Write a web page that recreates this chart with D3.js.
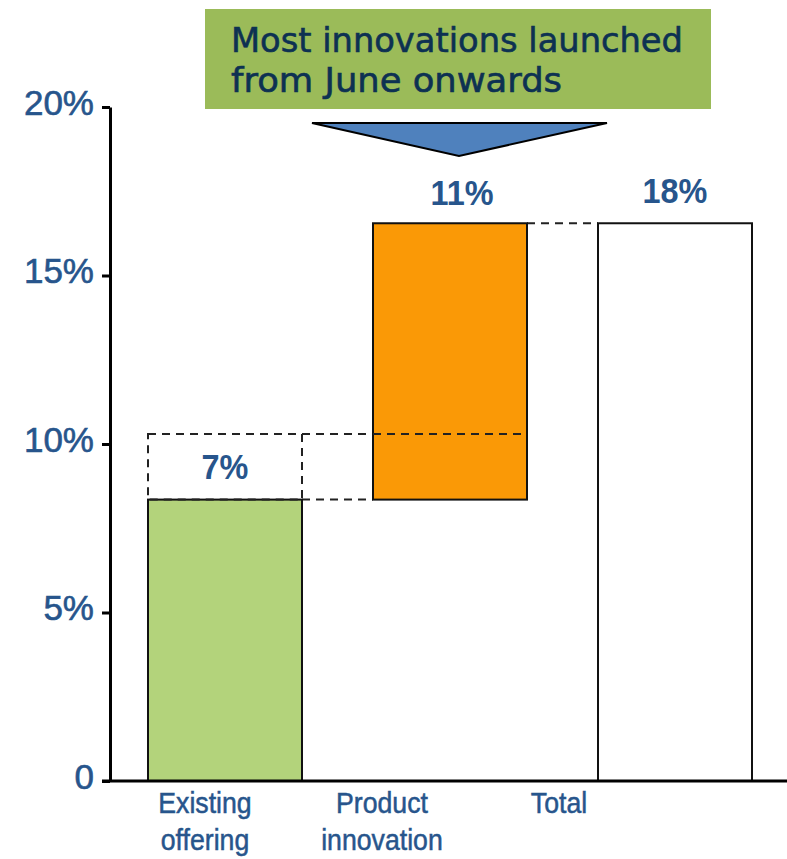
<!DOCTYPE html>
<html>
<head>
<meta charset="utf-8">
<script src="https://cdn.jsdelivr.net/npm/d3@7/dist/d3.min.js"></script>
<style>
  html, body { margin: 0; padding: 0; background: #ffffff; }
  svg { display: block; }
</style>
</head>
<body>
<svg id="chart" width="787" height="859"></svg>
<script>
// ---- Data -------------------------------------------------------------
const categories = ["Existing offering", "Product innovation", "Total"];
const categoryLines = [["Existing", "offering"], ["Product", "innovation"], ["Total"]];
const barBase = [0, 8.35, 0];          // where each waterfall bar starts (%)
const barTop = [8.35, 16.55, 16.55];   // where each waterfall bar ends (%)
const valueLabels = ["7%", "11%", "18%"];
const pendingRange = [8.35, 10.3];     // dashed outline above "Existing offering"
const yTicks = [0, 5, 10, 15, 20];
const yTickLabels = ["0", "5%", "10%", "15%", "20%"];
const headline = ["Most innovations launched", "from June onwards"];

// ---- Styles -----------------------------------------------------------
const blue = "#27558c";
const barFill = { "Existing offering": "#b3d37b", "Product innovation": "#fa9906", "Total": "#ffffff" };
const sans = "'Liberation Sans', Arial, sans-serif";

const svg = d3.select("#chart");

// squeeze a text element horizontally around its anchor point
function narrow(sel, k) {
  sel.each(function () {
    const t = d3.select(this);
    const cx = +t.attr("x") || 0;
    t.attr("transform", `translate(${cx},0) scale(${k},1) translate(${-cx},0)`);
  });
}

// ---- Scales -----------------------------------------------------------
const y = d3.scaleLinear().domain([0, 20]).range([781, 107]);
const x = d3.scaleBand().domain(categories).range([148, 752]).paddingInner(0.3156).paddingOuter(0);
const xLabel = d3.scalePoint().domain(categories).range([205, 559]);

// ---- Dashed helpers (drawn beneath the bars) ---------------------------
const dash = "8,6";
const conn = svg.append("g").attr("fill", "none").attr("stroke", "#222").attr("stroke-width", 2).attr("stroke-dasharray", dash);
const c0 = categories[0], c1 = categories[1], c2 = categories[2];

// top of pending range carried across to the innovation bar
conn.append("line")
  .attr("x1", x(c0) + x.bandwidth()).attr("x2", x(c1))
  .attr("y1", y(pendingRange[1])).attr("y2", y(pendingRange[1]));
// base of the innovation bar
conn.append("line")
  .attr("x1", x(c0) + x.bandwidth()).attr("x2", x(c1))
  .attr("y1", y(barTop[0])).attr("y2", y(barTop[0]));
// innovation top to total
conn.append("line")
  .attr("x1", x(c1) + x.bandwidth()).attr("x2", x(c2))
  .attr("y1", y(barTop[1])).attr("y2", y(barTop[1]));

// ---- Bars -------------------------------------------------------------
svg.append("g").selectAll("rect")
  .data(categories)
  .join("rect")
  .attr("x", d => x(d))
  .attr("width", x.bandwidth())
  .attr("y", (d, i) => y(barTop[i]))
  .attr("height", (d, i) => y(barBase[i]) - y(barTop[i]))
  .attr("fill", d => barFill[d])
  .attr("stroke", "#111")
  .attr("stroke-width", 2);

// pending outline above existing offering
svg.append("rect")
  .attr("x", x(c0)).attr("width", x.bandwidth())
  .attr("y", y(pendingRange[1])).attr("height", y(pendingRange[0]) - y(pendingRange[1]))
  .attr("fill", "none").attr("stroke", "#222").attr("stroke-width", 2).attr("stroke-dasharray", dash);

// dashed line of the pending range continues through the innovation bar
svg.append("line")
  .attr("x1", x(c1)).attr("x2", x(c1) + x.bandwidth())
  .attr("y1", y(pendingRange[1])).attr("y2", y(pendingRange[1]))
  .attr("stroke", "#222").attr("stroke-width", 2).attr("stroke-dasharray", dash);

// ---- Value labels -----------------------------------------------------
const labelY = [
  (y(pendingRange[0]) + y(pendingRange[1])) / 2 + 12,
  y(barTop[1]) - 18,
  y(barTop[2]) - 20
];
svg.append("g").selectAll("text")
  .data(valueLabels)
  .join("text")
  .attr("x", (d, i) => x(categories[i]) + x.bandwidth() / 2 + (i === 1 ? 12 : 0))
  .attr("y", (d, i) => labelY[i])
  .attr("text-anchor", "middle")
  .attr("font-family", sans)
  .attr("font-weight", "bold")
  .attr("font-size", 36)
  .attr("fill", blue)
  .text(d => d)
  .call(narrow, 0.9);

// ---- Axes -------------------------------------------------------------
const yAxis = svg.append("g")
  .attr("transform", "translate(110,0)")
  .call(d3.axisLeft(y).tickValues(yTicks).tickFormat((d, i) => yTickLabels[i]).tickSize(8).tickSizeOuter(0).tickPadding(8));
yAxis.select(".domain").attr("stroke", "#000").attr("stroke-width", 3);
yAxis.selectAll(".tick line").attr("stroke", "#000").attr("stroke-width", 3);
yAxis.selectAll(".tick text")
  .attr("font-family", sans)
  .attr("font-size", 35)
  .attr("fill", blue)
  .attr("stroke", blue)
  .attr("stroke-width", 0.6)
  .attr("dy", "0.2em");

// baseline
svg.append("line")
  .attr("x1", 102).attr("x2", 787)
  .attr("y1", y(0)).attr("y2", y(0))
  .attr("stroke", "#000").attr("stroke-width", 3);

// category labels
const cat = svg.append("g").selectAll("text")
  .data(categories)
  .join("text")
  .attr("x", d => xLabel(d))
  .attr("text-anchor", "middle")
  .attr("font-family", sans)
  .attr("font-size", 29)
  .attr("fill", blue)
  .attr("stroke", blue)
  .attr("stroke-width", 0.5);
cat.each(function (d, i) {
  d3.select(this).selectAll("tspan")
    .data(categoryLines[i])
    .join("tspan")
    .attr("x", xLabel(d))
    .attr("y", (t, j) => 813 + j * 37)
    .text(t => t);
});
cat.call(narrow, 0.92);

// ---- Headline callout -------------------------------------------------
const head = svg.append("g");
head.append("rect")
  .attr("x", 205).attr("y", 9).attr("width", 506).attr("height", 100)
  .attr("fill", "#9bbb59");
head.append("g").selectAll("text")
  .data(headline)
  .join("text")
  .attr("x", 231)
  .attr("y", (d, i) => 52 + i * 40)
  .attr("font-family", "'DejaVu Sans', Verdana, sans-serif")
  .attr("font-size", 33)
  .attr("fill", "#0d3152")
  .attr("stroke", "#0d3152")
  .attr("stroke-width", 0.6)
  .attr("textLength", (d, i) => [452, 331][i])
  .attr("lengthAdjust", "spacingAndGlyphs")
  .text(d => d);

// arrow pointing down at the innovation bar
head.append("path")
  .attr("d", d3.line()([[312, 123], [607, 123], [459, 156]]) + "Z")
  .attr("fill", "#4f81bd")
  .attr("stroke", "#000")
  .attr("stroke-width", 2)
  .attr("stroke-linejoin", "miter");
</script>
</body>
</html>
